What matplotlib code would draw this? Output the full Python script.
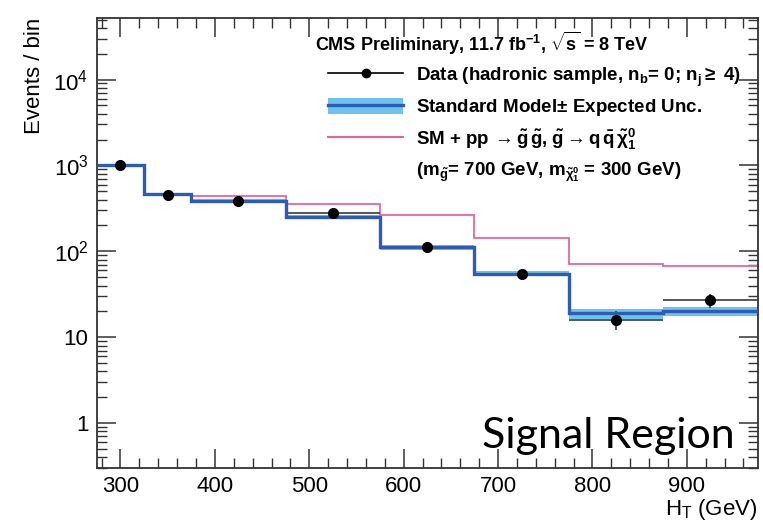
import numpy as np
import matplotlib
matplotlib.use('Agg')
from matplotlib import pyplot as plt
from matplotlib.lines import Line2D
from matplotlib.patches import Patch
from matplotlib.ticker import MultipleLocator, LogLocator, NullFormatter, FixedFormatter, FixedLocator

plt.rcParams['font.family'] = ['Liberation Sans', 'DejaVu Sans']
plt.rcParams['mathtext.fontset'] = 'custom'
plt.rcParams['mathtext.rm'] = 'Liberation Sans'
plt.rcParams['mathtext.it'] = 'Liberation Sans:italic'
plt.rcParams['mathtext.bf'] = 'Liberation Sans:bold'

# Bin edges in HT (GeV)
edges = [275, 325, 375, 475, 575, 675, 775, 875, 975]
centers = [300, 350, 425, 525, 625, 725, 825, 925]

# Observed data
data = [1020, 450, 385, 280, 112, 55, 16, 27]
# Standard Model expectation and its uncertainty
sm = [1000, 462, 390, 252, 111, 55, 19, 20]
sm_unc = [40, 20, 18, 12, 6, 3.5, 2.5, 2.5]
# SM + signal (gluino 700, LSP 300)
sig = [1000, 462, 440, 360, 268, 142, 71, 68]

ytick_vals = [1, 10, 100, 1000, 10000]
ytick_labels = ['1', '10', '$10^{2}$', '$10^{3}$', '$10^{4}$']

fig = plt.figure(figsize=(7.63, 5.22), dpi=100)
ax = fig.add_axes([0.127, 0.1034, 0.866, 0.862])

sm_arr = np.array(sm, dtype=float)
unc = np.array(sm_unc, dtype=float)
ax.stairs(sm_arr + unc, edges, baseline=sm_arr - unc, fill=True,
          color='#6cc4ec', lw=0, zorder=2)
ax.stairs(sig, edges, baseline=None, color='#e8649e', lw=1.3, zorder=2)
ax.stairs(sm, edges, baseline=None, color='#2c5cb4', lw=2.4, zorder=3)

xerr = [(edges[i + 1] - edges[i]) / 2 for i in range(len(centers))]
yerr = np.sqrt(data)
ax.errorbar(centers, data, xerr=xerr, yerr=yerr, fmt='none',
            ecolor='#3a3a3a', elinewidth=1.2, zorder=2.5)
ax.plot(centers, data, 'o', color='black', ms=7, zorder=5)

ax.set_yscale('log')
ax.set_xlim(275, 975)
ax.set_ylim(0.3, 5.2e4)
ax.yaxis.set_major_locator(FixedLocator(ytick_vals))
ax.yaxis.set_major_formatter(FixedFormatter(ytick_labels))
ax.yaxis.set_minor_locator(LogLocator(base=10, subs=np.arange(2, 10)))
ax.yaxis.set_minor_formatter(NullFormatter())
ax.xaxis.set_major_locator(MultipleLocator(100))
ax.xaxis.set_minor_locator(MultipleLocator(20))

ax.tick_params(which='both', direction='in', top=True, right=True,
               labelsize=16, color='#333333')
ax.tick_params(which='major', length=14, width=1.1, pad=6)
ax.tick_params(which='minor', length=7, width=1.0)
for s in ax.spines.values():
    s.set_linewidth(1.3)
    s.set_color('#333333')

ax.set_ylabel('Events / bin', fontsize=16, loc='top', labelpad=6)
ax.set_xlabel(r'H$_{\mathrm{T}}$ (GeV)', fontsize=16, loc='right', labelpad=0)

ax.text(0.33, 0.944,
        r'CMS Preliminary, 11.7 fb$^{\mathbf{-1}}$, $\sqrt{\mathbf{s}}$ = 8 TeV',
        transform=ax.transAxes, fontsize=13, fontweight='bold', va='center')

h_data = Line2D([], [], color='black', marker='o', ms=6, lw=1.2)
h_sm = (Patch(facecolor='#6cc4ec', edgecolor='none'),
        Line2D([], [], color='#2c5cb4', lw=2.4))
h_sig = Line2D([], [], color='#e8649e', lw=1.5)
h_blank = Line2D([], [], color='none')
labels = [r'Data (hadronic sample, n$_{\mathbf{b}}$= 0; n$_{\mathbf{j}}$$\mathbf{\geq}$ 4)',
          r'Standard Model$\mathbf{\pm}$ Expected Unc.',
          r'SM + pp$\mathbf{\,\rightarrow \tilde{g}\,\tilde{g}}$, $\mathbf{\tilde{g} \rightarrow q\,\bar{q}\,\tilde{\chi}^{0}_{1}}$',
          r'(m$_{\mathbf{\tilde{g}}}$= 700 GeV, m$_{\mathbf{\tilde{\chi}^{0}_{1}}}$ = 300 GeV)']
leg = ax.legend([h_data, h_sm, h_sig, h_blank], labels, loc='upper left',
                bbox_to_anchor=(0.336, 0.915), frameon=False, borderpad=0,
                handlelength=4.0, handleheight=1.0, handletextpad=0.7,
                labelspacing=0.45, prop={'size': 13.5, 'weight': 'bold'})

ax.text(0.965, 0.03, 'Signal Region', transform=ax.transAxes,
        fontsize=31, family=['Lato', 'DejaVu Sans'], ha='right', va='bottom')

fig.savefig('out.png', dpi=100)
